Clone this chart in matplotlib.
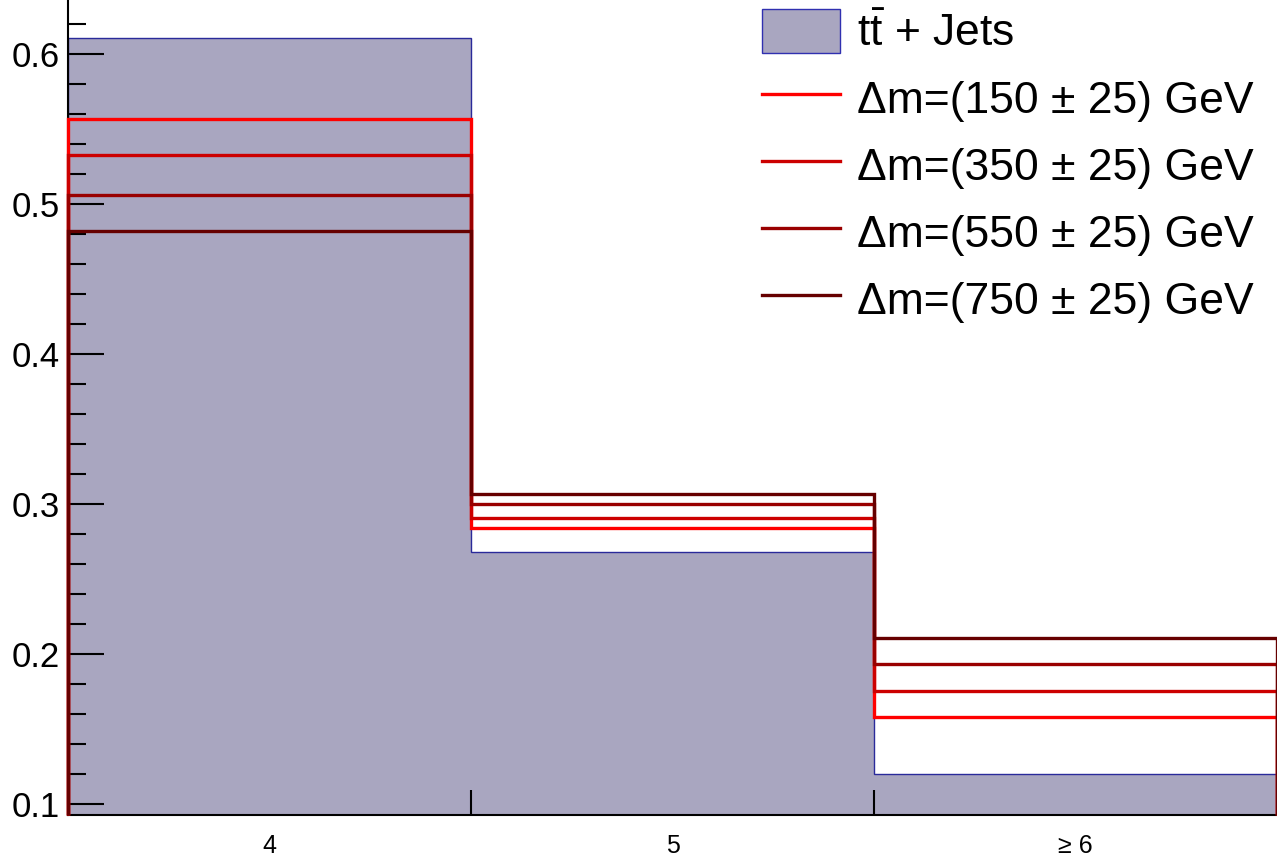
import matplotlib.pyplot as plt
import numpy as np
from matplotlib.patches import Patch
from matplotlib.lines import Line2D

plt.rcParams['font.family'] = ['Liberation Sans', 'DejaVu Sans']
plt.rcParams['mathtext.fontset'] = 'custom'
plt.rcParams['mathtext.rm'] = 'Liberation Sans'
plt.rcParams['mathtext.it'] = 'Liberation Sans'

# jet multiplicity bins
bin_edges = [3.5, 4.5, 5.5, 6.5]
bin_labels = ["4", "5", "\u2265 6"]

ttbar = [0.611, 0.268, 0.120]
signal_labels = ["150", "350", "550", "750"]
signal_values = [
    [0.557, 0.284, 0.158],
    [0.533, 0.291, 0.1755],
    [0.506, 0.300, 0.1935],
    [0.482, 0.3067, 0.211],
]
signal_colors = ["#ff0000", "#cc0000", "#990000", "#660000"]

fig = plt.figure(figsize=(12.77, 8.56), dpi=100)
ax = fig.add_axes([68 / 1277, 1 - 815 / 856, 1 - 68 / 1277, 815 / 856])

ax.stairs(ttbar, bin_edges, fill=True, facecolor="#a9a6c0", edgecolor="none", zorder=1)
ax.stairs(ttbar, bin_edges, color="#2a2a9a", linewidth=1.0, zorder=2)

handles = [Patch(facecolor="#a9a6c0", edgecolor="#3030b0", linewidth=1.0)]
labels = [r"$\mathrm{t\bar{t}}$ + Jets"]

for vals, lab, col in zip(signal_values, signal_labels, signal_colors):
    ax.stairs(vals, bin_edges, color=col, linewidth=2.4, zorder=4, clip_on=False,
              baseline=0.0927)
    handles.append(Line2D([], [], color=col, linewidth=2.4))
    labels.append("\u0394m=(" + lab + " \u00b1 25) GeV")

ax.set_xlim(3.5, 6.5)
ax.set_ylim(0.0927, 0.636)

ax.spines['top'].set_visible(False)
ax.spines['right'].set_visible(False)
for s in ['left', 'bottom']:
    ax.spines[s].set_linewidth(1.5)
    ax.spines[s].set_zorder(3)

ax.set_yticks(np.arange(0.1, 0.61, 0.1))
ax.set_yticklabels(["0.1", "0.2", "0.3", "0.4", "0.5", "0.6"])
ax.set_yticks(np.arange(0.1, 0.64, 0.02), minor=True)
ax.tick_params(axis='y', which='major', direction='in', length=26, width=1.5,
               labelsize=25, pad=6)
ax.tick_params(axis='y', which='minor', direction='in', length=13, width=1.5)

ax.set_xticks([4.5, 5.5])
ax.set_xticklabels(["", ""])
ax.set_xticks([4, 5, 6], minor=True)
ax.set_xticklabels(bin_labels, minor=True)
ax.tick_params(axis='x', which='major', direction='in', length=18, width=1.5)
ax.tick_params(axis='x', which='minor', length=0, labelsize=18, pad=14)

ax.legend(handles, labels, loc='upper right', frameon=False, fontsize=32,
          handlelength=1.75, handleheight=1.15, handletextpad=0.4,
          labelspacing=0.47, borderaxespad=0.0, borderpad=0.2,
          bbox_to_anchor=(1 - 14 / 1209, 1.0))

fig.savefig("out.png", dpi=100)
